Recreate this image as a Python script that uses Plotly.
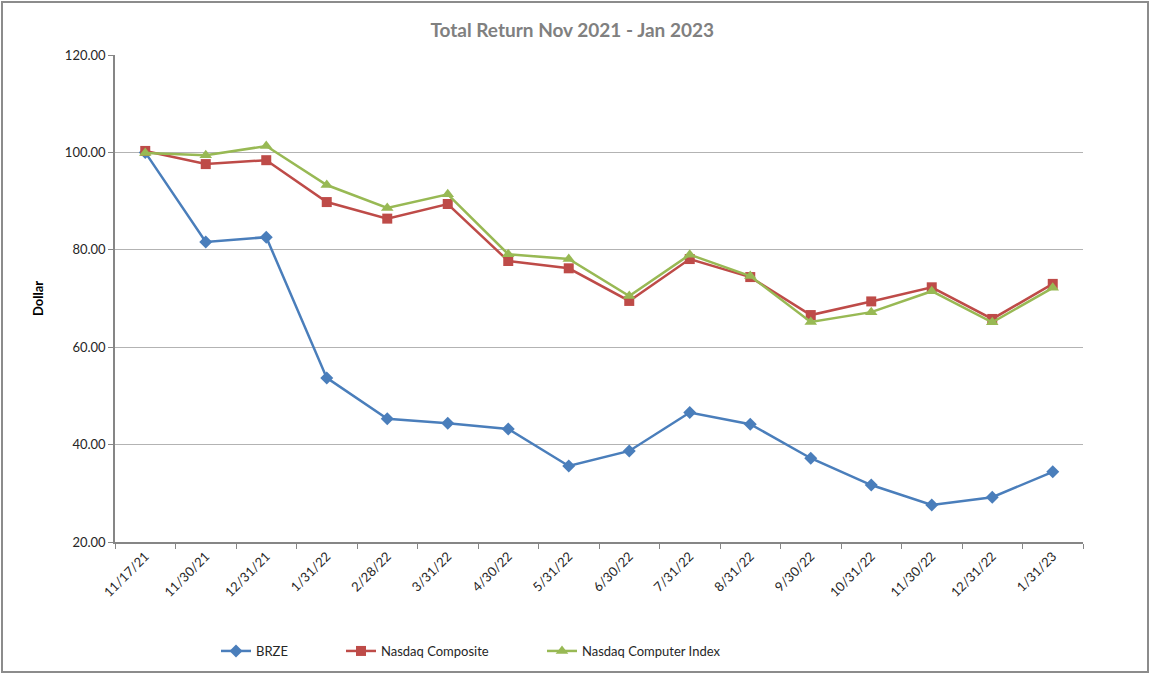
import plotly.graph_objects as go

dates = ["11/17/21", "11/30/21", "12/31/21", "1/31/22", "2/28/22", "3/31/22", "4/30/22",
         "5/31/22", "6/30/22", "7/31/22", "8/31/22", "9/30/22", "10/31/22", "11/30/22",
         "12/31/22", "1/31/23"]
brze = [100.0, 81.6, 82.6, 53.7, 45.3, 44.4, 43.2, 35.6, 38.7, 46.6, 44.2, 37.2, 31.7, 27.6, 29.2, 34.4]
nasdaq_comp = [100.3, 97.6, 98.4, 89.8, 86.4, 89.4, 77.7, 76.2, 69.5, 78.1, 74.4, 66.6, 69.4, 72.3, 65.8, 73.0]
nasdaq_computer = [99.9, 99.4, 101.3, 93.3, 88.6, 91.4, 79.1, 78.1, 70.5, 79.0, 74.6, 65.2, 67.2, 71.5, 65.1, 72.2]

series_names = ["BRZE", "Nasdaq Composite", "Nasdaq Computer Index"]
series_vals = [brze, nasdaq_comp, nasdaq_computer]
colors = ["#4a7ebb", "#be4b48", "#98b954"]
symbols = ["diamond", "square", "triangle-up"]
msizes = [10, 10, 11]

FONT = "Lato, 'Open Sans', sans-serif"
W, H = 1156, 680
L, R, T, B = 115, 73, 55, 138
pw, ph = W - L - R, H - T - B

fig = go.Figure()
legend_names = ["legend", "legend2", "legend3"]
legend_x_px = [216, 341, 542]
for i, (name, vals) in enumerate(zip(series_names, series_vals)):
    fig.add_trace(go.Scatter(
        x=dates, y=vals, name=name, mode="lines+markers",
        line=dict(color=colors[i], width=2.5),
        marker=dict(symbol=symbols[i], size=msizes[i], color=colors[i]),
        legend=legend_names[i],
    ))

def px2paper_x(px):
    return (px - L) / pw

def px2paper_y(py):
    return (H - B - py) / ph

legend_common = dict(orientation="h", yanchor="middle", xanchor="left",
                     font=dict(family=FONT, size=13, color="#262626"),
                     bgcolor="rgba(0,0,0,0)", itemwidth=30)
layout_legends = {}
for i, ln in enumerate(legend_names):
    layout_legends[ln] = dict(x=px2paper_x(legend_x_px[i]), y=px2paper_y(651), **legend_common)

fig.update_layout(
    width=W, height=H,
    margin=dict(l=L, r=R, t=T, b=B),
    paper_bgcolor="white", plot_bgcolor="white",
    title=dict(text="<b>Total Return Nov 2021 - Jan 2023</b>", x=0.495, xanchor="center",
               y=1 - 30 / H, yanchor="middle",
               font=dict(family=FONT, size=19, color="#808080")),
    showlegend=True,
    xaxis=dict(type="category", tickson="boundaries", ticks="outside", ticklen=5,
               tickcolor="#868686", showline=True, linecolor="#868686", linewidth=1.5,
               showgrid=False, tickangle=-45,
               tickfont=dict(family=FONT, size=13, color="#262626"),
               range=[-0.5, 15.5]),
    yaxis=dict(range=[20, 120], dtick=20, tick0=20, tickformat=".2f", ticks="outside",
               ticklen=5, tickcolor="#868686", showline=True, linecolor="#868686",
               linewidth=1.5, showgrid=True, gridcolor="#b3b3b3", gridwidth=1,
               zeroline=False,
               tickfont=dict(family=FONT, size=13, color="#262626"),
               title=dict(text="<b>Dollar</b>", standoff=18,
                          font=dict(family=FONT, size=13, color="#000000"))),
    shapes=[dict(type="rect", xref="paper", yref="paper",
                 x0=px2paper_x(2), x1=px2paper_x(1148),
                 y0=px2paper_y(672), y1=px2paper_y(2),
                 line=dict(color="#8c8c8c", width=2), layer="below")],
    **layout_legends,
)

fig.write_html("out.html", config={"displayModeBar": False},
               post_script="document.body.style.margin='0';")
